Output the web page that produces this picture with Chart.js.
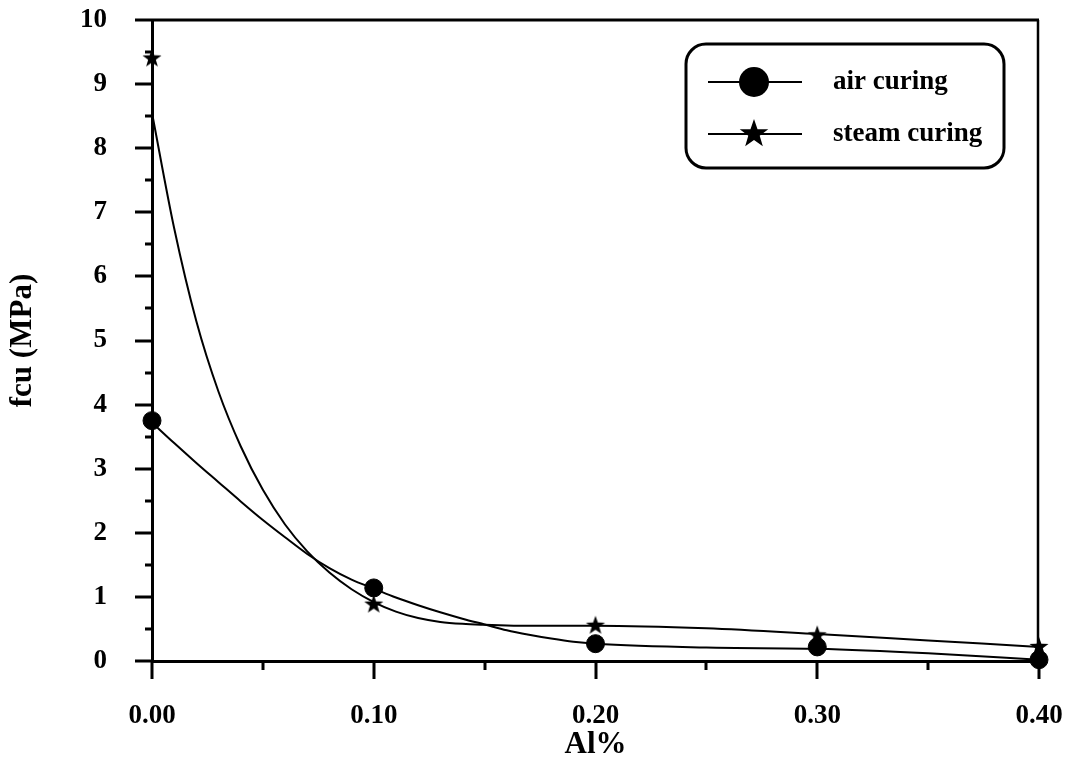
<!DOCTYPE html>
<html>
<head>
<meta charset="utf-8">
<script src="https://cdn.jsdelivr.net/npm/chart.js@4.4.0/dist/chart.umd.min.js"></script>
<style>
  body { margin: 0; background: #fff; }
  canvas { display: block; }
</style>
</head>
<body>
<canvas id="myChart" width="1067" height="760"></canvas>
<script>
// measured points
const alPct = [0.00, 0.10, 0.20, 0.30, 0.40];
const airFcu = [3.75, 1.14, 0.27, 0.22, 0.02];
const steamFcu = [9.40, 0.88, 0.55, 0.40, 0.22];

// fitted curves
const fitX = [0, 0.01, 0.02, 0.03, 0.04, 0.05, 0.06, 0.07, 0.08, 0.09, 0.10,
              0.11, 0.12, 0.13, 0.14, 0.15, 0.16, 0.17, 0.18, 0.19, 0.20,
              0.25, 0.30, 0.35, 0.40];
const airFit = [3.72, 3.40, 3.09, 2.79, 2.49, 2.20, 1.93, 1.67, 1.45, 1.27, 1.13,
                0.99, 0.87, 0.76, 0.66, 0.57, 0.48, 0.41, 0.35, 0.30, 0.27,
                0.21, 0.19, 0.12, 0.02];
const steamFit = [8.55, 6.75, 5.30, 4.20, 3.35, 2.67, 2.13, 1.71, 1.38, 1.12, 0.92,
                  0.77, 0.67, 0.61, 0.58, 0.565, 0.555, 0.55, 0.55, 0.55, 0.55,
                  0.51, 0.42, 0.32, 0.22];

const xTicks = [0, 0.1, 0.2, 0.3, 0.4];
const seriesNames = ['air curing', 'steam curing'];

const FONT = "'Liberation Serif', 'Times New Roman', serif";

function makeStar(r) {
  const c = document.createElement('canvas');
  c.width = c.height = Math.ceil(r * 2 + 2);
  const g = c.getContext('2d');
  const cx = c.width / 2, cy = c.height / 2;
  g.beginPath();
  for (let i = 0; i < 10; i++) {
    const rad = i % 2 === 0 ? r : r * 0.4;
    const a = -Math.PI / 2 + i * Math.PI / 5;
    g.lineTo(cx + rad * Math.cos(a), cy + rad * Math.sin(a));
  }
  g.closePath();
  g.fillStyle = '#000';
  g.fill();
  return c;
}
const starSmall = makeStar(10);
const starBig = makeStar(15);

const pts = (xs, ys) => xs.map((x, i) => ({ x: x, y: ys[i] }));

const framePlugin = {
  id: 'frame',
  afterDraw(chart) {
    const c = chart.ctx;
    const xs = chart.scales.x, ys = chart.scales.y;
    const a = chart.chartArea;
    c.save();
    c.strokeStyle = '#000';
    c.lineWidth = 3;
    c.beginPath();
    // y ticks
    for (let v = 0; v <= 10; v += 0.5) {
      const y = Math.round(ys.getPixelForValue(v));
      const len = Number.isInteger(v) ? 17 : 7;
      c.moveTo(a.left - len, y); c.lineTo(a.left, y);
    }
    // x ticks
    for (let v = 0; v <= 0.4001; v += 0.05) {
      const x = Math.round(xs.getPixelForValue(v));
      const major = Math.abs(v * 10 - Math.round(v * 10)) < 1e-6;
      c.moveTo(x, a.bottom); c.lineTo(x, a.bottom + (major ? 18 : 9));
    }
    // top border
    c.moveTo(a.left - 17, a.top); c.lineTo(a.right, a.top);
    c.stroke();
    c.lineWidth = 2.5;
    c.beginPath();
    c.moveTo(a.right - 1, a.top); c.lineTo(a.right - 1, a.bottom);
    c.stroke();

    // legend box
    c.lineWidth = 3;
    c.beginPath();
    c.roundRect(686, 44, 318, 124, 20);
    c.stroke();
    c.lineWidth = 2;
    const rows = [82, 134];
    rows.forEach((ry, i) => {
      c.beginPath();
      c.moveTo(708, ry); c.lineTo(802, ry);
      c.stroke();
      if (i === 0) {
        c.beginPath();
        c.arc(754, ry, 15, 0, Math.PI * 2);
        c.fillStyle = '#000';
        c.fill();
      } else {
        c.drawImage(starBig, 754 - starBig.width / 2, ry - starBig.height / 2);
      }
      c.fillStyle = '#000';
      c.font = 'bold 27px ' + FONT;
      c.textBaseline = 'middle';
      c.textAlign = 'left';
      c.fillText(chart.data.datasets[i].label, 833, ry);
    });
    c.restore();
  }
};

new Chart(document.getElementById('myChart'), {
  type: 'scatter',
  data: {
    datasets: [
      {
        label: seriesNames[0],
        data: pts(alPct, airFcu),
        pointStyle: 'circle',
        pointRadius: 9,
        pointHoverRadius: 9,
        backgroundColor: '#000',
        borderColor: '#000',
        showLine: false,
        clip: false
      },
      {
        label: seriesNames[1],
        data: pts(alPct, steamFcu),
        pointStyle: starSmall,
        backgroundColor: '#000',
        borderColor: '#000',
        showLine: false,
        clip: false
      },
      {
        label: 'air fit',
        data: pts(fitX, airFit),
        showLine: true,
        pointRadius: 0,
        borderColor: '#000',
        borderWidth: 2,
        cubicInterpolationMode: 'monotone',
        clip: false
      },
      {
        label: 'steam fit',
        data: pts(fitX, steamFit),
        showLine: true,
        pointRadius: 0,
        borderColor: '#000',
        borderWidth: 2,
        cubicInterpolationMode: 'monotone',
        clip: false
      }
    ]
  },
  options: {
    responsive: false,
    animation: false,
    events: [],
    layout: { padding: { top: 20, right: 28, left: 0, bottom: 0 } },
    plugins: { legend: { display: false }, tooltip: { enabled: false } },
    scales: {
      x: {
        type: 'linear',
        min: 0,
        max: 0.4,
        afterFit(s) { s.height = 99; s.paddingLeft = 0; s.paddingRight = 0; },
        afterBuildTicks(s) { s.ticks = xTicks.map(v => ({ value: v })); },
        grid: { display: false },
        border: { display: true, color: '#000', width: 3 },
        ticks: {
          color: '#000',
          padding: 31,
          maxRotation: 0,
          font: { family: FONT, size: 27, weight: 'bold' },
          callback: v => v.toFixed(2)
        },
        title: {
          display: true,
          text: 'Al%',
          color: '#000',
          font: { family: FONT, size: 31, weight: 'bold' },
          padding: { top: 0, bottom: -4 }
        }
      },
      y: {
        min: 0,
        max: 10,
        afterFit(s) { s.width = 152; s.paddingTop = 0; s.paddingBottom = 0; },
        grid: { display: false },
        border: { display: true, color: '#000', width: 3 },
        ticks: {
          stepSize: 1,
          color: '#000',
          padding: 37,
          font: { family: FONT, size: 27, weight: 'bold' }
        },
        title: {
          display: true,
          text: 'fcu (MPa)',
          color: '#000',
          font: { family: FONT, size: 31, weight: 'bold' },
          padding: { top: 4, bottom: 0 }
        }
      }
    }
  },
  plugins: [framePlugin]
});
</script>
</body>
</html>
